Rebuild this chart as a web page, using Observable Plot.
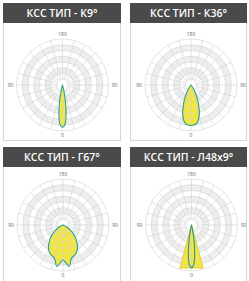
<!DOCTYPE html>
<html><head><meta charset="utf-8">
<script src="https://cdn.jsdelivr.net/npm/d3@7"></script>
<script src="https://cdn.jsdelivr.net/npm/@observablehq/plot@0.6"></script>
<style>
html,body{margin:0;padding:0;background:#fff;}
body{width:249px;height:281px;overflow:hidden;position:relative;font-family:"Open Sans",sans-serif;}
.panel{position:absolute;box-sizing:border-box;border:1px solid #d6d6d6;}
.hdr{position:absolute;background:#4a4a4a;color:#fff;font-weight:600;font-size:10.5px;text-align:center;white-space:nowrap;}
.plot{position:absolute;}
</style></head><body>
<script>
// Titles
const titles = ["КСС ТИП - К9°", "КСС ТИП - К36°", "КСС ТИП - Г67°", "КСС ТИП - Л48x9°"];
// Axis labels
const labelTop = "180", labelSide = "90", labelBottom = "0";
// Grid
const ringValues = [0.125, 0.25, 0.375, 0.5, 0.625, 0.75, 0.875, 1];
const spokeAngles = [0, 15, 30, 45, 60, 75, 90, 105, 120, 135, 150, 165, 180, 195, 210, 225, 240, 255, 270, 285, 300, 315, 330, 345];
// Half-profiles (angle from nadir, deg) and relative intensity (symmetric curves)
const k9Angles = [0, 2, 4, 6, 8, 10, 12, 14, 16];
const k9Values = [0.92, 0.9, 0.84, 0.72, 0.55, 0.36, 0.2, 0.08, 0];
const k36Angles = [0, 5, 10, 15, 20, 25, 30, 35, 40];
const k36Values = [0.88, 0.87, 0.82, 0.69, 0.5, 0.32, 0.17, 0.06, 0];
const g67Angles = [0, 4, 8, 10, 12, 15, 20, 25, 30, 35, 40, 45, 50, 55, 60, 65, 70];
const g67Values = [0.76, 0.82, 0.91, 0.88, 0.8, 0.74, 0.71, 0.68, 0.62, 0.55, 0.46, 0.38, 0.29, 0.2, 0.12, 0.05, 0];
const l48Angles = [0, 5, 10, 15, 15.5];
const l48Values = [0.93, 0.935, 0.945, 0.965, 0];
const l9Angles = [0, 2, 4, 6, 8, 10, 12, 14];
const l9Values = [0.93, 0.9, 0.82, 0.66, 0.46, 0.26, 0.1, 0];

const panels = [
  {left: 3, top: 3, width: 118, hh: 20, bh: 118, cx: 62, cy: 84.5, curves: [[k9Angles, k9Values, "#2aa198"]]},
  {left: 130, top: 3, width: 117, hh: 20, bh: 118, cx: 190.5, cy: 84.5, curves: [[k36Angles, k36Values, "#2aa198"]]},
  {left: 3, top: 147, width: 118, hh: 20, bh: 140, cx: 62.5, cy: 224.5, curves: [[g67Angles, g67Values, "#2aa198"]]},
  {left: 130, top: 147, width: 117, hh: 20, bh: 140, cx: 191, cy: 224.5, curves: [[l48Angles, l48Values, "#e2d43a", "linear-closed"], [l9Angles, l9Values, "#2a9a86"]]}
];
const R = 46;
const rad = d => d * Math.PI / 180;

function profile(angles, values) {
  const pts = [];
  for (let i = angles.length - 1; i > 0; i--) pts.push({x: -values[i] * Math.sin(rad(angles[i])), y: -values[i] * Math.cos(rad(angles[i]))});
  for (let i = 0; i < angles.length; i++) pts.push({x: values[i] * Math.sin(rad(angles[i])), y: -values[i] * Math.cos(rad(angles[i]))});
  return pts;
}

panels.forEach((p, k) => {
  const box = document.createElement("div");
  box.className = "panel";
  Object.assign(box.style, {left: p.left + "px", top: p.top + "px", width: p.width + "px", height: (p.hh + p.bh) + "px"});
  document.body.appendChild(box);
  const hdr = document.createElement("div");
  hdr.className = "hdr";
  hdr.textContent = titles[k];
  Object.assign(hdr.style, {left: p.left + "px", top: p.top + "px", width: p.width + "px", height: p.hh + "px", lineHeight: p.hh + "px"});
  document.body.appendChild(hdr);

  const W = p.width - 2, H = p.bh - 1;
  const ox = p.left + 1, oy = p.top + p.hh;
  const cx = p.cx - ox, cy = p.cy - oy;
  const bands = ringValues.slice().reverse();
  const curveMarks = [];
  p.curves.forEach(([a, v, stroke, curve]) => {
    curveMarks.push({pts: profile(a, v), stroke, curve: curve || "catmull-rom-closed"});
  });
  const marks = [
    Plot.dot(bands, {x: 0, y: 0, r: d => d, fill: (d, i) => (i % 2 === 1 && d > 0.2) ? "#eeeeee" : "#ffffff", stroke: "none"}),
    ...curveMarks.map(c => Plot.line(c.pts, {x: "x", y: "y", curve: c.curve, fill: "#f5e63a", stroke: "none"})),
    Plot.link(spokeAngles, {x1: d => 0.125 * Math.sin(rad(d)), y1: d => 0.125 * Math.cos(rad(d)), x2: d => Math.sin(rad(d)), y2: d => Math.cos(rad(d)), stroke: "#d2d2d2", strokeWidth: 0.6}),
    Plot.dot(ringValues, {x: 0, y: 0, r: d => d, fill: "none", stroke: "#d2d2d2", strokeWidth: 0.6}),
    ...curveMarks.map(c => Plot.line(c.pts, {x: "x", y: "y", curve: c.curve, stroke: c.stroke, strokeWidth: 1.1})),
    Plot.dot([0], {x: 0, y: 0, r: 0.04, fill: "#9a9a9a", stroke: "#555", strokeWidth: 0.8}),
    Plot.text([labelTop], {x: 0, y: 1, dy: -5, text: d => d, fontSize: 5, fill: "#666"}),
    Plot.text([labelBottom], {x: 0, y: -1, dy: 4, text: d => d, fontSize: 5, fill: "#666"}),
    Plot.text([labelSide], {x: -1, y: 0, dx: -6, text: d => d, fontSize: 5, fill: "#666"}),
    Plot.text([labelSide], {x: 1, y: 0, dx: 6, text: d => d, fontSize: 5, fill: "#666"})
  ];
  const svg = Plot.plot({
    width: W, height: H,
    margin: 0,
    x: {domain: [-1, 1], range: [cx - R, cx + R], axis: null},
    y: {domain: [-1, 1], range: [cy + R, cy - R], axis: null},
    r: {type: "linear", domain: [0, 1], range: [0, R]},
    color: {type: "identity"},
    style: {background: "transparent", fontFamily: "Open Sans, sans-serif"},
    marks
  });
  svg.classList.add("plot");
  Object.assign(svg.style, {left: ox + "px", top: oy + "px", position: "absolute"});
  document.body.appendChild(svg);
});
</script>
</body></html>
